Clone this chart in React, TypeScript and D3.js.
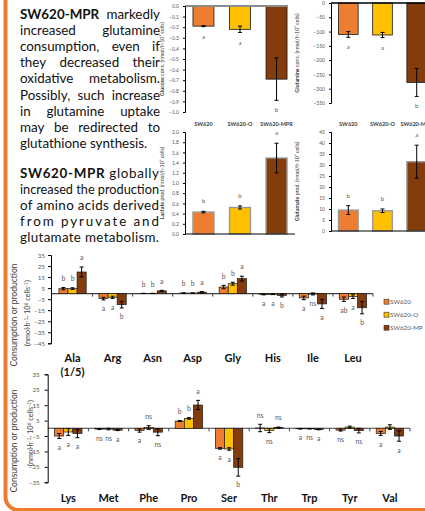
import React, { useEffect, useRef } from 'react';
import * as d3 from 'd3';

// strains / colours
const strains = ['SW620', 'SW620-O', 'SW620-MPR'];
const legendNames = ['SW620', 'SW620-O', 'SW620-MP'];
const colors = ['#ED7D31', '#FFC000', '#843C0C'];

// top panels (mean, sd, letters)
const glucoseMean = [-0.19, -0.22, -0.69];
const glucoseErr = [0.005, 0.03, 0.2];
const glucoseLetters = ['a', 'a', 'b'];
const glucoseTicks = [0, -0.1, -0.2, -0.3, -0.4, -0.5, -0.6, -0.7, -0.8, -0.9, -1.0];

const glutamineMean = [-110, -112, -278];
const glutamineErr = [10, 9, 49];
const glutamineLetters = ['a', 'a', 'b'];
const glutamineTicks = [0, -50, -100, -150, -200, -250, -300, -350];

const lactateMean = [0.43, 0.52, 1.49];
const lactateErr = [0.015, 0.03, 0.29];
const lactateLetters = ['b', 'b', 'a'];
const lactateTicks = [0, 0.2, 0.4, 0.6, 0.8, 1.0, 1.2, 1.4, 1.6, 1.8, 2.0];

const glutamateMean = [9.5, 9.2, 31.5];
const glutamateErr = [2, 0.8, 7.5];
const glutamateLetters = ['b', 'b', 'a'];
const glutamateTicks = [0, 5, 10, 15, 20, 25, 30, 35, 40, 45];

// amino acids, first block
const aa1 = ['Ala', 'Arg', 'Asn', 'Asp', 'Gly', 'His', 'Ile', 'Leu'];
const aa1Sw620 = [4.5, -4.5, 0.2, 0.5, 6.0, -0.8, -3.9, -5.1];
const aa1Sw620Err = [1.0, 1.2, 0.1, 0.2, 1.5, 0.3, 1.6, 2.0];
const aa1Sw620O = [4.5, -3.3, 0.2, 0.5, 9.0, -0.6, -0.3, -2.7];
const aa1Sw620OErr = [0.8, 1.0, 0.1, 0.2, 1.3, 0.3, 0.9, 1.7];
const aa1Mpr = [19.6, -10.0, 2.5, 1.3, 13.6, -1.8, -9.3, -12.8];
const aa1MprErr = [4.5, 3.0, 0.5, 0.5, 2.2, 1.2, 4.1, 5.5];
const aa1Letters = [
  ['b', 'a', 'b', 'b', 'b', 'a', 'a', 'ab'],
  ['b', 'a', 'b', 'b', 'b', 'a', 'ns', 'a'],
  ['a', 'b', 'a', 'a', 'a', 'b', 'a', 'b'],
];
const aa1Ticks = [35, 25, 15, 5, -5, -15, -25, -35, -45];

// amino acids, second block
const aa2 = ['Lys', 'Met', 'Phe', 'Pro', 'Ser', 'Thr', 'Trp', 'Tyr', 'Val'];
const aa2Sw620 = [-5.0, -0.5, -1.5, 4.7, -13.0, 0.2, -0.3, -1.2, -3.3];
const aa2Sw620Err = [1.6, 0.3, 1.0, 0.3, 0.5, 2.4, 0.2, 0.6, 1.3];
const aa2Sw620O = [-2.4, -0.5, 0.5, 6.4, -13.4, -1.5, -0.3, 0.8, 0.8];
const aa2Sw620OErr = [2.2, 0.5, 1.2, 0.5, 0.8, 1.3, 0.2, 0.6, 1.5];
const aa2Mpr = [-3.4, -1.2, -2.5, 15.1, -25.3, 0.5, -0.8, -1.5, -5.0];
const aa2MprErr = [2.7, 0.3, 2.3, 3.0, 5.7, 0.3, 0.2, 1.5, 3.4];
const aa2Letters = [
  ['a', 'ns', 'a', 'b', 'a', 'ns', 'a', 'ns', 'a'],
  ['a', 'ns', 'ns', 'b', 'a', 'ns', 'ns', '', ''],
  ['a', 'a', 'ns', 'a', 'b', 'ns', 'a', 'ns', 'a'],
];
const aa2Ticks = [35, 25, 15, 5, -5, -15, -25, -35];

// text
const para1 = [
  'SW620-MPR markedly',
  'increased glutamine',
  'consumption, even if',
  'they decreased their',
  'oxidative metabolism.',
  'Possibly, such increase',
  'in glutamine uptake',
  'may be redirected to',
  'glutathione synthesis.',
];
const para2 = [
  'SW620-MPR globally',
  'increased the production',
  'of amino acids derived',
  'from pyruvate and',
  'glutamate metabolism.',
];

const FONT = 'Lato, "Open Sans", sans-serif';
const GREY = '#595959';
const PARA_SIZE = 13.4;
const MIN_GAP = 3;

// justified by word spacing; lines that are too long get squeezed a little
function drawParagraphWords(g: any, lines: string[], x0: number, x1: number, y0: number, lh: number) {
  const W = x1 - x0;
  lines.forEach((line, li) => {
    const words = line.split(' ');
    const nodes = words.map((w) =>
      g.append('text')
        .attr('y', y0 + li * lh)
        .attr('font-family', FONT)
        .attr('font-size', PARA_SIZE)
        .attr('font-weight', w === 'SW620-MPR' ? 700 : 400)
        .attr('fill', '#111')
        .text(w)
    );
    let widths = nodes.map((n: any) => n.node().getComputedTextLength());
    const sum = d3.sum(widths);
    const nGaps = words.length - 1;
    const last = li === lines.length - 1;
    if (sum + nGaps * MIN_GAP > W) {
      const k = (W - nGaps * MIN_GAP) / sum;
      widths = widths.map((w: number) => w * k);
      nodes.forEach((n: any, i: number) => n.attr('textLength', widths[i]).attr('lengthAdjust', 'spacingAndGlyphs'));
    }
    const sum2 = d3.sum(widths);
    const gap = last || nGaps < 1 ? 3.3 : Math.max(MIN_GAP, (W - sum2) / nGaps);
    let x = x0;
    nodes.forEach((n: any, i: number) => {
      n.attr('x', x);
      x += widths[i] + gap;
    });
  });
}

// justified by letter spacing
function drawParagraphSpread(g: any, lines: string[], x0: number, x1: number, y0: number, lh: number) {
  lines.forEach((line, li) => {
    const t = g.append('text')
      .attr('x', x0)
      .attr('y', y0 + li * lh)
      .attr('font-family', FONT)
      .attr('font-size', PARA_SIZE)
      .attr('fill', '#111');
    if (line.startsWith('SW620-MPR')) {
      t.append('tspan').attr('font-weight', 700).text('SW620-MPR');
      t.append('tspan').text(line.slice(9));
    } else {
      t.text(line);
    }
    const natural = t.node().getComputedTextLength();
    t.attr('textLength', x1 - x0)
      .attr('lengthAdjust', natural > x1 - x0 ? 'spacingAndGlyphs' : 'spacing');
  });
}

function drawTopPanel(svg: any, cfg: any) {
  const g = svg.append('g');
  const y = d3.scaleLinear().domain(cfg.domain).range(cfg.yRange);
  const x = d3.scaleBand().domain(strains).range(cfg.xRange).paddingInner(0.425).paddingOuter(0.218);

  g.selectAll('rect.bar')
    .data(cfg.mean)
    .enter().append('rect')
    .attr('x', (d: number, i: number) => x(strains[i]))
    .attr('width', x.bandwidth())
    .attr('y', (d: number) => y(Math.max(0, d)))
    .attr('height', (d: number) => Math.abs(y(d) - y(0)))
    .attr('fill', (d: number, i: number) => colors[i])
    .attr('stroke', cfg.barStroke)
    .attr('stroke-width', cfg.barStrokeW);

  // error bars
  cfg.mean.forEach((m: number, i: number) => {
    const cx = (x(strains[i]) as number) + x.bandwidth() / 2;
    const e = cfg.err[i];
    g.append('line').attr('x1', cx).attr('x2', cx).attr('y1', y(m - e)).attr('y2', y(m + e)).attr('stroke', '#000').attr('stroke-width', 1);
    [m - e, m + e].forEach((v) => {
      g.append('line').attr('x1', cx - 2).attr('x2', cx + 2).attr('y1', y(v)).attr('y2', y(v)).attr('stroke', '#000').attr('stroke-width', 1);
    });
    const ly = m < 0 ? y(m - e) + 10 : y(m + e) - 10;
    g.append('text')
      .attr('x', cx).attr('y', ly + 2)
      .attr('text-anchor', 'middle')
      .attr('font-family', FONT).attr('font-size', 6).attr('fill', GREY)
      .text(cfg.letters[i]);
  });

  // zero / base line
  g.append('line')
    .attr('x1', cfg.xRange[0]).attr('x2', cfg.baseEnd)
    .attr('y1', y(0)).attr('y2', y(0))
    .attr('stroke', cfg.baseColor).attr('stroke-width', cfg.baseW);

  const ax = g.append('g')
    .attr('transform', `translate(${cfg.xRange[0]},0)`)
    .call(d3.axisLeft(y).tickValues(cfg.ticks).tickSize(2).tickPadding(4).tickFormat(cfg.fmt));
  ax.select('.domain').attr('stroke', '#000');
  ax.selectAll('.tick line').attr('stroke', '#000');
  ax.selectAll('.tick text').attr('font-family', FONT).attr('font-size', 5).attr('fill', GREY);

  // y label
  const [y0, y1] = cfg.yRange;
  const lbl = g.append('text')
    .attr('transform', `translate(${cfg.labelX},${(y0 + y1) / 2}) rotate(-90)`)
    .attr('text-anchor', 'middle')
    .attr('font-family', FONT).attr('font-size', 5.3).attr('fill', '#404040');
  lbl.append('tspan').attr('font-weight', 700).text(cfg.label[0]);
  lbl.append('tspan').text(cfg.label[1]);

  if (cfg.catY) {
    strains.forEach((s) => {
      g.append('text')
        .attr('x', (x(s) as number) + x.bandwidth() / 2)
        .attr('y', cfg.catY)
        .attr('text-anchor', 'middle')
        .attr('font-family', FONT).attr('font-size', 5.5).attr('font-weight', 700).attr('fill', '#404040')
        .text(s);
    });
  }
}

function drawAAPanel(svg: any, cfg: any) {
  const g = svg.append('g');
  const y = d3.scaleLinear().domain(cfg.domain).range(cfg.yRange);
  const x0 = d3.scaleBand().domain(cfg.cats).range(cfg.xRange).padding(0);
  const x1 = d3.scaleBand().domain(strains).range([0, x0.bandwidth()]).paddingInner(0).paddingOuter(0.7);

  // x axis (zero line) with separators
  g.append('line')
    .attr('x1', cfg.axisX).attr('x2', cfg.xRange[1])
    .attr('y1', y(0)).attr('y2', y(0))
    .attr('stroke', '#404040').attr('stroke-width', 1.1);
  g.selectAll('line.sep')
    .data(cfg.cats)
    .enter().append('line')
    .attr('x1', (d: string) => (x0(d) as number) + x0.bandwidth())
    .attr('x2', (d: string) => (x0(d) as number) + x0.bandwidth())
    .attr('y1', y(0)).attr('y2', y(0) + 3)
    .attr('stroke', '#404040').attr('stroke-width', 1);

  cfg.series.forEach((s: any, si: number) => {
    const means: number[] = s[0];
    const errs: number[] = s[1];
    const letters: string[] = cfg.letters[si];
    cfg.cats.forEach((c: string, ci: number) => {
      const m = means[ci];
      const e = errs[ci];
      const bx = (x0(c) as number) + (x1(strains[si]) as number);
      const cx = bx + x1.bandwidth() / 2;
      g.append('rect')
        .attr('x', bx).attr('width', x1.bandwidth())
        .attr('y', y(Math.max(0, m)))
        .attr('height', Math.abs(y(m) - y(0)))
        .attr('fill', colors[si]).attr('stroke', '#1a1a1a').attr('stroke-width', 0.7);
      g.append('line').attr('x1', cx).attr('x2', cx).attr('y1', y(m - e)).attr('y2', y(m + e)).attr('stroke', '#000').attr('stroke-width', 1);
      [m - e, m + e].forEach((v) => {
        g.append('line').attr('x1', cx - 2).attr('x2', cx + 2).attr('y1', y(v)).attr('y2', y(v)).attr('stroke', '#000').attr('stroke-width', 1);
      });
      if (letters[ci]) {
        const ly = m < 0 ? y(m - e) + 9 : y(m + e) - 9;
        g.append('text')
          .attr('x', cx).attr('y', ly + 2.3)
          .attr('text-anchor', 'middle')
          .attr('font-family', FONT).attr('font-size', 6.8).attr('fill', GREY)
          .text(letters[ci]);
      }
    });
  });

  const ax = g.append('g')
    .attr('transform', `translate(${cfg.axisX},0)`)
    .call(d3.axisLeft(y).tickValues(cfg.ticks).tickSize(3).tickPadding(cfg.tickPad));
  ax.select('.domain').attr('stroke', '#000');
  ax.selectAll('.tick line').attr('stroke', '#000');
  ax.selectAll('.tick text').attr('font-family', FONT).attr('font-size', 6.3).attr('fill', GREY);

  // category labels
  cfg.cats.forEach((c: string) => {
    g.append('text')
      .attr('x', (x0(c) as number) + x0.bandwidth() / 2)
      .attr('y', cfg.catY)
      .attr('text-anchor', 'middle')
      .attr('font-family', FONT).attr('font-size', 11).attr('font-weight', 700).attr('fill', '#111')
      .text(c);
  });
  if (cfg.subLabel) {
    g.append('text')
      .attr('x', (x0(cfg.cats[0]) as number) + x0.bandwidth() / 2)
      .attr('y', cfg.catY + 14)
      .attr('text-anchor', 'middle')
      .attr('font-family', FONT).attr('font-size', 11).attr('font-weight', 700).attr('fill', '#111')
      .text(cfg.subLabel);
  }

  // y title (two lines)
  g.append('text')
    .attr('transform', `translate(${cfg.titleX[0]},${cfg.titleY[0]}) rotate(-90)`)
    .attr('text-anchor', 'middle')
    .attr('font-family', FONT).attr('font-size', 8.5).attr('fill', '#404040')
    .text('Consumption or production');
  const t2 = g.append('text')
    .attr('transform', `translate(${cfg.titleX[1]},${cfg.titleY[1]}) rotate(-90)`)
    .attr('text-anchor', 'middle')
    .attr('font-family', FONT).attr('font-size', 7.3).attr('fill', '#404040');
  t2.append('tspan').text('(nmol·h');
  t2.append('tspan').attr('dy', -2.5).attr('font-size', 5).text('-1');
  t2.append('tspan').attr('dy', 2.5).text('· 10');
  t2.append('tspan').attr('dy', -2.5).attr('font-size', 5).text('6');
  t2.append('tspan').attr('dy', 2.5).text(' cells');
  t2.append('tspan').attr('dy', -2.5).attr('font-size', 5).text('-1');
  t2.append('tspan').attr('dy', 2.5).text(')');
}

function drawAll(svg: any) {
  // orange frame
  svg.append('path')
    .attr('d', 'M5.5,0 V497 A13,13 0 0 0 18.5,510 H425')
    .attr('fill', 'none').attr('stroke', '#ED7D31').attr('stroke-width', 4);

  const txt = svg.append('g');
  drawParagraphWords(txt, para1, 20, 160, 18.5, 16.2);
  drawParagraphSpread(txt, para2, 20, 159, 177.5, 16.2);

  drawTopPanel(svg, {
    mean: glucoseMean, err: glucoseErr, letters: glucoseLetters,
    domain: [-1, 0], yRange: [112, 6], xRange: [185, 295], baseEnd: 288,
    ticks: glucoseTicks, fmt: d3.format('.1f'),
    barStroke: '#1a1a1a', barStrokeW: 0.8, baseColor: '#8c8c8c', baseW: 1.8,
    label: ['Glucose', ' cons. (nmol/h·10⁶ cells)'], labelX: 164, catY: 126,
  });
  drawTopPanel(svg, {
    mean: glutamineMean, err: glutamineErr, letters: glutamineLetters,
    domain: [-350, 0], yRange: [103, 3], xRange: [331, 434], baseEnd: 425,
    ticks: glutamineTicks, fmt: d3.format('d'),
    barStroke: '#1a1a1a', barStrokeW: 0.8, baseColor: '#000', baseW: 1.5,
    label: ['Glutamine', ' cons. (nmol/h·10⁶ cells)'], labelX: 299, catY: 126,
  });
  drawTopPanel(svg, {
    mean: lactateMean, err: lactateErr, letters: lactateLetters,
    domain: [0, 2], yRange: [234, 132], xRange: [185, 295], baseEnd: 295,
    ticks: lactateTicks, fmt: d3.format('.1f'),
    barStroke: '#9a9a9a', barStrokeW: 1.4, baseColor: '#000', baseW: 1.2,
    label: ['Lactate', ' prod. (nmol/h·10⁶ cells)'], labelX: 164,
  });
  drawTopPanel(svg, {
    mean: glutamateMean, err: glutamateErr, letters: glutamateLetters,
    domain: [0, 45], yRange: [231, 132], xRange: [331, 434], baseEnd: 425,
    ticks: glutamateTicks, fmt: d3.format('d'),
    barStroke: '#9a9a9a', barStrokeW: 1.4, baseColor: '#000', baseW: 1.2,
    label: ['Glutamate', ' prod. (nmol/h·10⁶ cells)'], labelX: 299,
  });

  drawAAPanel(svg, {
    cats: aa1,
    series: [[aa1Sw620, aa1Sw620Err], [aa1Sw620O, aa1Sw620OErr], [aa1Mpr, aa1MprErr]],
    letters: aa1Letters,
    domain: [-45, 35], yRange: [343.3, 255], ticks: aa1Ticks, tickPad: 3,
    xRange: [52.5, 373], axisX: 51, catY: 361.5, subLabel: '(1/5)',
    titleX: [17, 30], titleY: [315, 313],
  });
  drawAAPanel(svg, {
    cats: aa2,
    series: [[aa2Sw620, aa2Sw620Err], [aa2Sw620O, aa2Sw620OErr], [aa2Mpr, aa2MprErr]],
    letters: aa2Letters,
    domain: [-35, 35], yRange: [482.3, 374.3], ticks: aa2Ticks, tickPad: 5,
    xRange: [48.2, 410], axisX: 47.7, catY: 501.5,
    titleX: [17, 33], titleY: [441, 433],
  });

  // legend
  const lg = svg.append('g');
  legendNames.forEach((n, i) => {
    lg.append('rect')
      .attr('x', 384).attr('y', 299.2 + i * 13).attr('width', 5).attr('height', 5)
      .attr('fill', colors[i]).attr('stroke', '#333').attr('stroke-width', 0.6);
    lg.append('text')
      .attr('x', 390).attr('y', 304.1 + i * 13)
      .attr('font-family', FONT).attr('font-size', 6.3).attr('fill', GREY)
      .text(n);
  });
}

export default function App() {
  const ref = useRef<SVGSVGElement>(null);
  useEffect(() => {
    const svg = d3.select(ref.current);
    svg.selectAll('*').remove();
    drawAll(svg);
  }, []);
  return (
    <div style={{ position: 'absolute', left: 0, top: 0 }}>
      <svg ref={ref} width={425} height={511} style={{ display: 'block', background: '#fff' }} />
    </div>
  );
}
